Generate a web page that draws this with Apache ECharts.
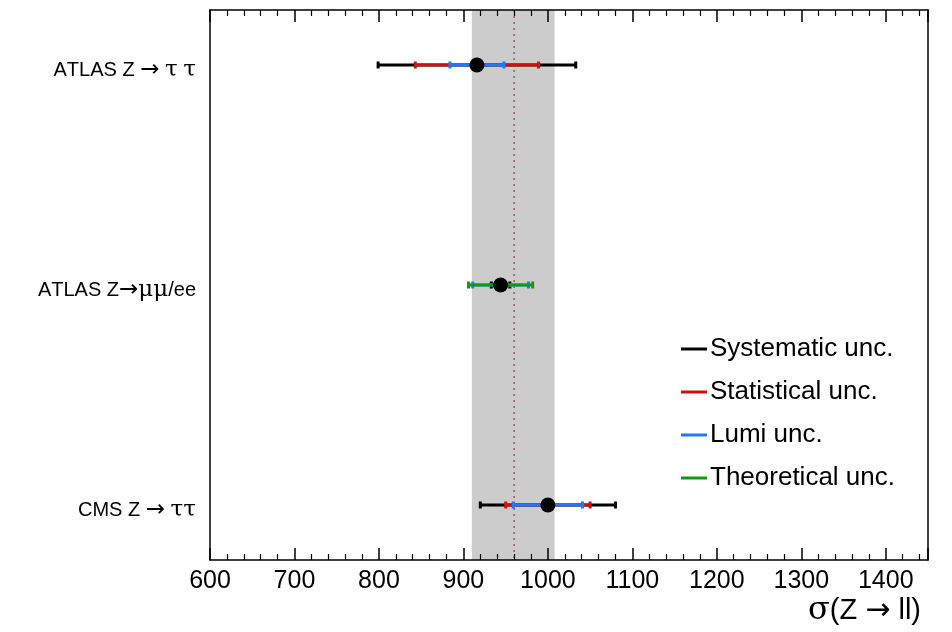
<!DOCTYPE html>
<html><head><meta charset="utf-8">
<script src="https://cdn.jsdelivr.net/npm/echarts@6/dist/echarts.min.js"></script>
<style>html,body{margin:0;padding:0;background:#fff}#c{width:952px;height:632px}</style>
</head><body><div id="c"></div>
<script>
// ---- data ----
const categories = ['CMS Z \u2192 \u03c4\u03c4', 'ATLAS Z\u2192\u03bc\u03bc/ee', 'ATLAS Z \u2192 \u03c4 \u03c4'];
const rowPos = [0, 1, 2];
const centres = [1000, 944, 916];
const sysUnc = [80, 11, 117];
const statUnc = [50, null, 73];
const lumiUnc = [41, 33, 32];
const theoUnc = [null, 38, null];
const bandRange = [910, 1008];
const refValue = 960;
const xTicks = [600, 700, 800, 900, 1000, 1100, 1200, 1300, 1400];
const legendNames = ['Systematic unc.', 'Statistical unc.', 'Lumi unc.', 'Theoretical unc.'];
const axisTitle = '\u03c3(Z \u2192 ll)';
const colors = ['#000000', '#d01010', '#1f78ff', '#139a13'];

const chart = echarts.init(document.getElementById('c'));
const uncs = [sysUnc, statUnc, lumiUnc, theoUnc];

// split text into rich-text runs: greek letters serif, arrows in DejaVu Sans
function richify(s) {
  let out = '';
  for (const ch of s) {
    if (/[\u0370-\u03ff]/.test(ch)) out += '{g|' + ch + '}';
    else if (ch === '\u2192') out += '{a|' + ch + '}';
    else out += '{n|' + ch + '}';
  }
  return out;
}

function barSeries(i) {
  const data = [];
  rowPos.forEach((y, k) => {
    if (uncs[i][k] != null) data.push([centres[k] - uncs[i][k], centres[k] + uncs[i][k], y]);
  });
  return {
    type: 'custom', name: legendNames[i], z: 3 + i,
    itemStyle: { color: colors[i] },
    data: data,
    renderItem: function (params, api) {
      const a = api.coord([api.value(0), api.value(2)]);
      const b = api.coord([api.value(1), api.value(2)]);
      const st = { stroke: colors[i], lineWidth: 3 };
      return { type: 'group', children: [
        { type: 'line', shape: { x1: a[0], y1: a[1], x2: b[0], y2: b[1] }, style: st },
        { type: 'line', shape: { x1: a[0], y1: a[1] - 3.5, x2: a[0], y2: a[1] + 3.5 }, style: st },
        { type: 'line', shape: { x1: b[0], y1: b[1] - 3.5, x2: b[0], y2: b[1] + 3.5 }, style: st }
      ]};
    }
  };
}

const axisCommon = {
  type: 'value', min: 600, max: 1450, interval: 100, z: 10,
  axisLine: { show: true, onZero: false, lineStyle: { color: '#000', width: 1.5 } },
  axisTick: { show: true, inside: true, length: 12, lineStyle: { color: '#000', width: 1.5 } },
  minorTick: { show: true, splitNumber: 5, length: 6, lineStyle: { color: '#000', width: 1.2 } },
  splitLine: { show: false }
};

const labelRich = {
  n: { fontSize: 20, fontFamily: 'Liberation Sans, Arial', color: '#000' },
  a: { fontSize: 23, fontFamily: 'DejaVu Sans', color: '#000' },
  g: { fontSize: 23, fontFamily: 'DejaVu Serif, Liberation Serif', color: '#000' }
};

chart.setOption({
  animation: false,
  grid: { left: 210, right: 24, top: 10, bottom: 72 },
  xAxis: [
    Object.assign({}, axisCommon, { position: 'bottom',
      axisLabel: { show: true, margin: 9, fontSize: 25, color: '#000', fontFamily: 'Liberation Sans, Arial',
        formatter: v => xTicks.includes(v) ? String(v) : '' } }),
    Object.assign({}, axisCommon, { position: 'top', axisLabel: { show: false } })
  ],
  yAxis: [
    { type: 'value', min: -0.25, max: 2.25, interval: 0.25, position: 'left',
      axisLine: { show: true, onZero: false, lineStyle: { color: '#000', width: 1.5 } },
      axisTick: { show: false }, splitLine: { show: false },
      axisLabel: { margin: 14, rich: labelRich, padding: [10, 0, 0, 0],
        formatter: v => { const k = rowPos.indexOf(Math.round(v * 100) / 100); return k >= 0 ? richify(categories[k]) : ''; } } },
    { type: 'value', min: -0.25, max: 2.25, interval: 0.25, position: 'right',
      axisLine: { show: true, onZero: false, lineStyle: { color: '#000', width: 1.5 } },
      axisTick: { show: false }, splitLine: { show: false }, axisLabel: { show: false } }
  ],
  title: { text: richify(axisTitle), right: 26, bottom: 0,
    textStyle: { fontWeight: 'normal', rich: {
      n: { fontSize: 29, fontWeight: 'normal', fontFamily: 'Liberation Sans, Arial', color: '#000' },
      a: { fontSize: 30, fontWeight: 'normal', fontFamily: 'DejaVu Sans', color: '#000' },
      g: { fontSize: 32, fontWeight: 'normal', fontFamily: 'DejaVu Serif, Liberation Serif', color: '#000' } } } },
  legend: {
    orient: 'vertical', left: 676, top: 331, itemGap: 17, itemWidth: 26, itemHeight: 3,
    textStyle: { fontSize: 26, color: '#000', fontFamily: 'Liberation Sans, Arial', padding: [0, 0, 0, -2] },
    data: legendNames.map((n, i) => ({ name: n, icon: 'rect', itemStyle: { color: colors[i] } }))
  },
  series: [
    { type: 'custom', z: 1, silent: true, data: [[bandRange[0], bandRange[1], refValue]],
      renderItem: function (params, api) {
        const cs = params.coordSys;
        const a = api.coord([api.value(0), 0]);
        const b = api.coord([api.value(1), 0]);
        const r = api.coord([api.value(2), 0]);
        return { type: 'group', children: [
          { type: 'rect', shape: { x: a[0], y: cs.y, width: b[0] - a[0], height: cs.height }, style: { fill: '#cccccc' } },
          { type: 'line', shape: { x1: r[0], y1: cs.y, x2: r[0], y2: cs.y + cs.height },
            style: { stroke: '#a04040', lineWidth: 1.3, lineDash: [2, 4] } }
        ]};
      } },
    barSeries(0), barSeries(1), barSeries(2), barSeries(3),
    { type: 'scatter', z: 10, symbolSize: 15, itemStyle: { color: '#000', opacity: 1 },
      data: centres.map((c, k) => [c, rowPos[k]]) }
  ]
});
</script></body></html>
